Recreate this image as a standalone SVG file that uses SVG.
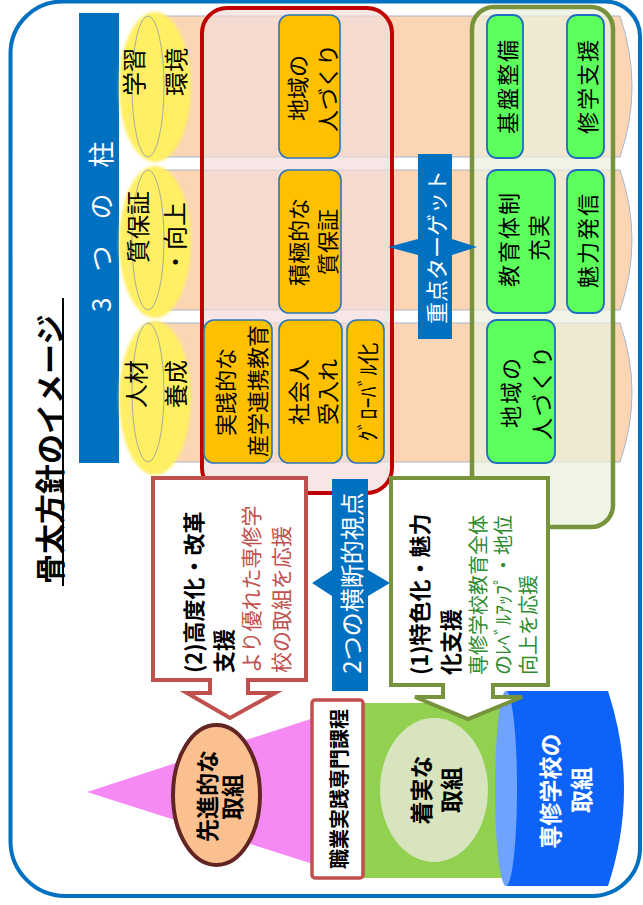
<svg xmlns="http://www.w3.org/2000/svg" width="643" height="905" viewBox="0 0 643 905">
<defs>
<style>
text{font-family:"Noto Sans CJK JP","Noto Sans CJK SC",sans-serif;}
.c{text-anchor:middle;dominant-baseline:central;}
.s{text-anchor:start;dominant-baseline:central;}
.b{font-weight:bold;}
.pil{fill:#FCD5B4;stroke:#A5B5CC;stroke-width:1;}
.glow{fill:#FFEF63;filter:url(#blur);}
.face{fill:none;stroke:#8C9CB0;stroke-width:0.8;}
.ob{fill:#FFC000;stroke:#2E75B6;stroke-width:1.6;}
.gb{fill:#5CFF5C;stroke:#1F6FC0;stroke-width:1.8;}
.t22{font-size:22px;fill:#000;}
.t23{font-size:23px;fill:#000;}
.t24{font-size:24px;fill:#000;}
.g23{font-size:22px;fill:#000;letter-spacing:2px;}
.w{fill:#fff;}
</style>
<filter id="blur" x="-20%" y="-20%" width="140%" height="140%"><feGaussianBlur stdDeviation="1.5"/></filter>
</defs>
<rect width="643" height="905" fill="#fff"/>
<path id="frame" d="M62.5,1.5 L605,1.5 A35,35 0 0 1 640,36.5 L640,848 A48,48 0 0 1 592,896 L65.5,896 A55,55 0 0 1 10.5,841 L10.5,53.5 A52,52 0 0 1 62.5,1.5 Z" fill="none" stroke="#0070C0" stroke-width="4"/>

<g id="title">
<text class="s b" font-size="30" transform="translate(48,584) rotate(-90)">骨太方針のイメージ</text>
<line x1="63" y1="298" x2="63" y2="586" stroke="#000" stroke-width="2"/>
</g>

<g id="pillars-label">
<rect x="79" y="13" width="40" height="450" fill="#0070C0"/>
<text class="s w" font-size="26" transform="translate(99,312) rotate(-90)">3　つ　の　柱</text>
</g>

<g id="pillar1">
<path class="pil" d="M148,16 L620,16 Q644,86.5 620,157 L148,157 Z"/>
<ellipse class="glow" cx="155" cy="87" rx="36" ry="75"/>
<ellipse class="face" cx="148" cy="86.5" rx="16" ry="70.5"/>
<text class="c t24" transform="translate(132,72) rotate(-90)">学習</text>
<text class="c t24" transform="translate(174,72) rotate(-90)">環境</text>
</g>
<g id="pillar2">
<path class="pil" d="M148,170 L620,170 Q644,240 620,310 L148,310 Z"/>
<ellipse class="glow" cx="155" cy="242" rx="36" ry="76"/>
<ellipse class="face" cx="148" cy="240" rx="16" ry="70"/>
<text class="c t24" transform="translate(136,227) rotate(-90)">質保証</text>
<text class="c t24" transform="translate(173,238) rotate(-90)">・向上</text>
</g>
<g id="pillar3">
<path class="pil" d="M148,323 L620,323 Q644,392.5 620,462 L148,462 Z"/>
<ellipse class="glow" cx="155" cy="398" rx="36" ry="77"/>
<ellipse class="face" cx="148" cy="392.5" rx="16" ry="69.5"/>
<text class="c t24" transform="translate(134,384) rotate(-90)">人材</text>
<text class="c t24" transform="translate(174,384) rotate(-90)">養成</text>
</g>

<g id="red-group">
<rect x="202" y="8" width="190" height="485" rx="25" fill="#F2DCDB" fill-opacity="0.7" stroke="#C00000" stroke-width="4"/>
</g>
<g id="green-group">
<rect x="472" y="7" width="141" height="520" rx="22" fill="#EBF1DE" fill-opacity="0.7" stroke="#77933C" stroke-width="4.5"/>
</g>

<g id="o1"><rect class="ob" x="279" y="15" width="61" height="143" rx="10"/>
<text class="c t22" transform="translate(296,88) rotate(-90)">地域の</text>
<text class="c t22" transform="translate(326,88) rotate(-90)">人づくり</text></g>
<g id="o2"><rect class="ob" x="279" y="170" width="62" height="143" rx="10"/>
<text class="c t22" transform="translate(297,242) rotate(-90)">積極的な</text>
<text class="c t22" transform="translate(326,242) rotate(-90)">質保証</text></g>
<g id="o3"><rect class="ob" x="204" y="320" width="68" height="143" rx="10"/>
<text class="c t22" transform="translate(224,392) rotate(-90)">実践的な</text>
<text class="c t22" transform="translate(256,391) rotate(-90)">産学連携教育</text></g>
<g id="o4"><rect class="ob" x="279" y="320" width="63" height="143" rx="10"/>
<text class="c t22" transform="translate(297,392) rotate(-90)">社会人</text>
<text class="c t22" transform="translate(326,392) rotate(-90)">受入れ</text></g>
<g id="o5"><rect class="ob" x="347" y="320" width="37" height="143" rx="10"/>
<text class="c t22" transform="translate(366,392) rotate(-90)">ｸﾞﾛｰﾊﾞﾙ化</text></g>

<g id="g1"><rect class="gb" x="487" y="15" width="36" height="143" rx="10"/>
<text class="c g23" transform="translate(506,86) rotate(-90)">基盤整備</text></g>
<g id="g2"><rect class="gb" x="567" y="15" width="37" height="143" rx="10"/>
<text class="c g23" transform="translate(586,86) rotate(-90)">修学支援</text></g>
<g id="g3"><rect class="gb" x="487" y="170" width="68" height="143" rx="10"/>
<text class="c g23" transform="translate(507,239) rotate(-90)">教育体制</text>
<text class="c g23" transform="translate(537,237) rotate(-90)">充実</text></g>
<g id="g4"><rect class="gb" x="567" y="170" width="37" height="143" rx="10"/>
<text class="c g23" transform="translate(586,240) rotate(-90)">魅力発信</text></g>
<g id="g5"><rect class="gb" x="487" y="320" width="68" height="143" rx="10"/>
<text class="c g23" transform="translate(509,392) rotate(-90)">地域の</text>
<text class="c g23" transform="translate(540,392) rotate(-90)">人づくり</text></g>

<g id="bottom">
<polygon points="87,792 335,711 335,871" fill="#F68AF4"/>
<rect x="362" y="703" width="150" height="175" fill="#92D050"/>
<path d="M506,691 L608,691 Q640,788.5 608,886 L506,886 Z" fill="#0D63F8"/>
<ellipse cx="506" cy="788.5" rx="11" ry="97.5" fill="#6FA3FF"/>
</g>

<g id="senshin">
<ellipse cx="216.5" cy="795" rx="43.5" ry="70" fill="#FAC090" stroke="#632523" stroke-width="4"/>
<text class="c b t23" transform="translate(206,796) rotate(-90)">先進的な</text>
<text class="c b t23" transform="translate(231,797) rotate(-90)">取組</text>
</g>
<g id="shokugyo">
<rect x="312" y="700" width="51" height="178" rx="3" fill="#fff" stroke="#C0504D" stroke-width="3.5"/>
<text class="c b" font-size="20" transform="translate(338,789) rotate(-90)">職業実践専門課程</text>
</g>
<g id="chakujitsu">
<ellipse cx="434" cy="790" rx="54" ry="72" fill="#D7E4BD"/>
<text class="c b t23" transform="translate(420,790) rotate(-90)">着実な</text>
<text class="c b t23" transform="translate(450,790) rotate(-90)">取組</text>
</g>
<g id="senshu">
<text class="c b w" font-size="23" transform="translate(549,791) rotate(-90)">専修学校の</text>
<text class="c b w" font-size="23" transform="translate(580,790) rotate(-90)">取組</text>
</g>

<g id="connectors">
<polygon points="418,154 452,154 452,239 477,247 452,255 452,339 418,339 418,255 388,247 418,239" fill="#0070C0"/>
<polygon points="332,479 368,479 368,570 390,583 368,596 368,691 332,691 332,596 312,583 332,570" fill="#0070C0"/>
</g>
<text class="c w" font-size="22" transform="translate(435,247) rotate(-90)">重点ターゲット</text>
<text class="c w" font-size="24" transform="translate(350,583) rotate(-90)">2つの横断的視点</text>

<g id="callout2">
<path d="M153,478 L306,478 L306,680 L248,680 L248,693 L275,693 L230,718 L187,693 L210,693 L210,680 L153,680 Z" fill="#fff" stroke="#C0504D" stroke-width="4" stroke-linejoin="miter"/>
<text class="s b t22" transform="translate(192,673) rotate(-90)">(2)高度化・改革</text>
<text class="s b t22" transform="translate(222,673) rotate(-90)">支援</text>
<text class="s" font-size="21" fill="#C0504D" transform="translate(250,673) rotate(-90)">より優れた専修学</text>
<text class="s" font-size="21" fill="#C0504D" transform="translate(280,673) rotate(-90)">校の取組を応援</text>
</g>
<g id="callout1">
<path d="M391,478 L548,478 L548,685 L493,685 L493,697 L522,697 L468,719 L415,697 L443,697 L443,685 L391,685 Z" fill="#fff" stroke="#77933C" stroke-width="4"/>
<text class="s b t22" transform="translate(418,675) rotate(-90)">(1)特色化・魅力</text>
<text class="s b t22" transform="translate(449,675) rotate(-90)">化支援</text>
<text class="s" font-size="20" fill="#2E8B2E" transform="translate(477,675) rotate(-90)">専修学校教育全体</text>
<text class="s" font-size="20" fill="#2E8B2E" transform="translate(502,675) rotate(-90)">のﾚﾍﾞﾙｱｯﾌﾟ・地位</text>
<text class="s" font-size="20" fill="#2E8B2E" transform="translate(527,675) rotate(-90)">向上を応援</text>
</g>
</svg>
